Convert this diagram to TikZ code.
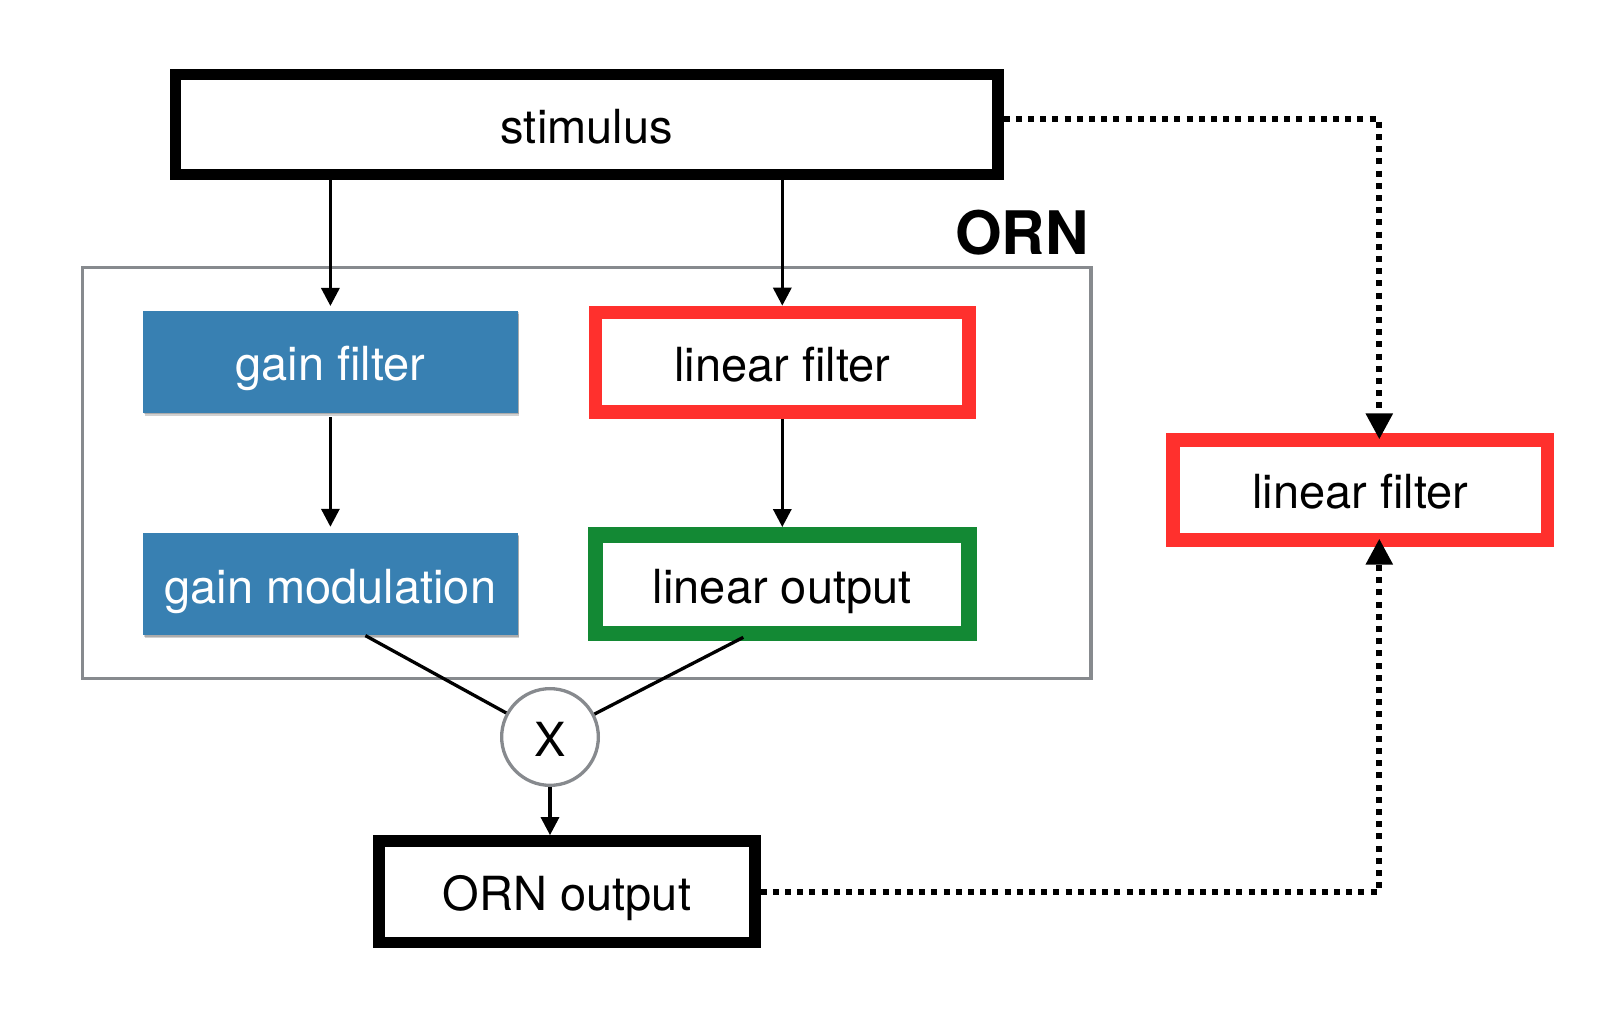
\documentclass[tikz,border=0pt]{standalone}
\usepackage{fontspec}
\setmainfont{TeX Gyre Heros}
\usetikzlibrary{arrows.meta,shadows,calc}
\definecolor{gblue}{RGB}{56,128,178}
\definecolor{fred}{RGB}{255,48,45}
\definecolor{fgreen}{RGB}{19,137,52}
\definecolor{fgray}{RGB}{135,138,142}
\begin{document}
\begin{tikzpicture}[x=0.5pt,y=-0.5pt,
  txt/.style={font=\fontsize{23.5}{28}\selectfont, text height=19pt, text depth=0pt, inner sep=0pt, align=center},
  blackbox/.style={txt, draw=black, line width=5.75pt, fill=white},
  redbox/.style={txt, draw=fred, line width=6.75pt, fill=white},
  greenbox/.style={txt, draw=fgreen, line width=7.75pt, fill=white},
  bluebox/.style={txt, fill=gblue, text=white,
    drop shadow={shadow xshift=0.8pt, shadow yshift=-1.6pt, opacity=0.18, fill=black},
    drop shadow={shadow xshift=0.4pt, shadow yshift=-0.8pt, opacity=0.18, fill=black}},
  arr/.style={line width=1.65pt, -{Triangle[length=9pt,width=9pt]}},
  dotarr/.style={line width=2.9pt, dash pattern=on 3pt off 3.1pt, -{Triangle[length=13pt,width=13pt]}},
]
\useasboundingbox (0,0) rectangle (1614,1032);
\fill[white] (0,0) rectangle (1614,1032);

% ORN container
\node[draw=fgray, line width=1.6pt, minimum width=504.35pt, minimum height=205.35pt, inner sep=0pt] (orn) at (586.65,472.95) {};
\node[font=\fontsize{30}{36}\selectfont\bfseries, inner sep=0pt, anchor=base east] (ornlabel) at (1089,255) {ORN};

% boxes
\node[blackbox, minimum width=411.15pt, minimum height=49.8pt] (stim) at (586.7,124.5) {stimulus};
\node[bluebox, minimum width=187.3pt, minimum height=51pt] (gf) at (330.4,361.8) {gain filter};
\node[redbox, minimum width=186.75pt, minimum height=49.85pt] (lf) at (782.3,362.3) {linear filter};
\node[bluebox, minimum width=187.3pt, minimum height=51pt] (gm) at (330.4,584.2) {gain modulation};
\node[greenbox, minimum width=186.75pt, minimum height=49.4pt] (lo) at (782.3,584.2) {linear output};
\node[txt, circle, draw=fgray, line width=1.65pt, fill=white, minimum size=48.35pt] (mult) at (550,737) {X};
\node[blackbox, minimum width=187.85pt, minimum height=50.8pt] (out) at (567,891.7) {ORN output};
\node[redbox, minimum width=187.25pt, minimum height=49.9pt] (rlf) at (1360.2,490) {linear filter};

% connectors
\draw[arr] (stim.south -| gf.north) -- ([yshift=2.2pt]gf.north);
\draw[arr] (stim.south -| lf.north) -- (lf.north);
\draw[arr] ([yshift=-2pt]gf.south) -- ([yshift=3pt]gm.north);
\draw[arr] (lf.south) -- (lo.north);
\draw[line width=1.65pt] ([xshift=17.5pt]gm.south) -- (mult);
\draw[line width=1.65pt] ([xshift=-19.5pt,yshift=2pt]lo.south) -- (mult);
\draw[arr] (mult.south) -- (mult.south |- out.north);

\coordinate (c1) at (1379.3,119.4);
\coordinate (c2) at (1379.3,891.7);
\draw[dotarr] (stim.east |- c1) -- (c1) -- ([yshift=-3pt]c1 |- rlf.north);
\draw[dotarr] (out.east |- c2) -- (c2) -- ([yshift=4pt]c2 |- rlf.south);
\end{tikzpicture}
\end{document}
